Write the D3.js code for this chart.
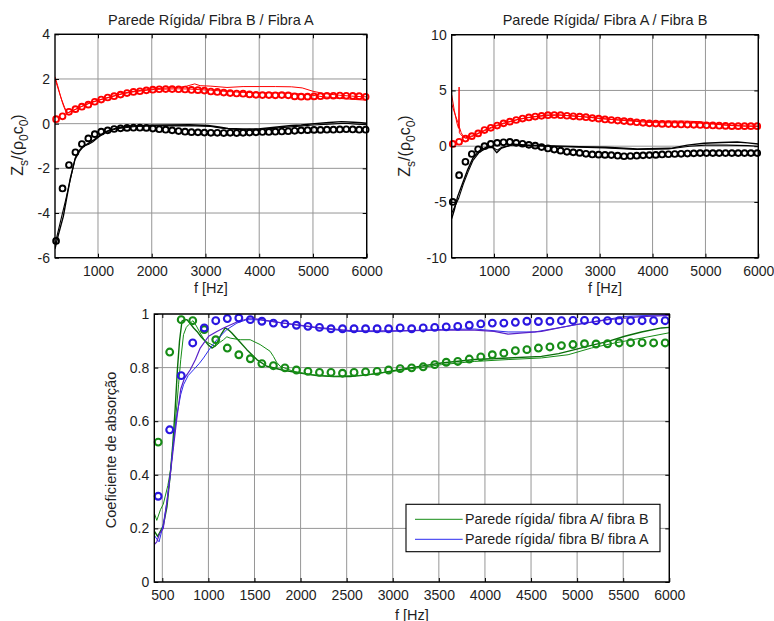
<!DOCTYPE html>
<html>
<head>
<meta charset="utf-8">
<script src="https://cdn.jsdelivr.net/npm/d3@7"></script>
<style>
  html, body { margin: 0; padding: 0; background: #fff; }
  svg { display: block; font-family: "Liberation Sans", Arial, Helvetica, sans-serif; }
</style>
</head>
<body>
<svg id="fig" width="774" height="621"></svg>
<script>
// ---------- surface impedance panels: frequency grid of the modelled points (Hz) ----------
const freqZ = [220,340,460,580,700,820,940,1060,1180,1300,1420,1540,1660,1780,1900,2020,2140,2260,2380,2500,
  2620,2740,2860,2980,3100,3220,3340,3460,3580,3700,3820,3940,4060,4180,4300,4420,4540,4660,4780,4900,
  5020,5140,5260,5380,5500,5620,5740,5860,5980];

// Parede Rígida / Fibra B / Fibra A — model (circles)
const zBA_imag = [-5.25,-2.9,-1.85,-1.28,-0.91,-0.66,-0.47,-0.36,-0.3,-0.24,-0.21,-0.19,-0.18,-0.18,-0.19,-0.22,-0.25,-0.27,-0.3,-0.33,
  -0.36,-0.38,-0.39,-0.4,-0.41,-0.41,-0.42,-0.41,-0.42,-0.41,-0.4,-0.39,-0.37,-0.37,-0.36,-0.35,-0.34,-0.32,-0.3,-0.29,
  -0.28,-0.28,-0.27,-0.27,-0.26,-0.25,-0.26,-0.27,-0.27];
const zBA_real = [0.2,0.33,0.53,0.65,0.76,0.85,0.98,1.08,1.17,1.23,1.3,1.37,1.42,1.45,1.49,1.52,1.54,1.55,1.55,1.54,
  1.53,1.51,1.5,1.48,1.44,1.42,1.39,1.37,1.35,1.34,1.31,1.29,1.28,1.28,1.27,1.28,1.27,1.22,1.21,1.21,
  1.22,1.23,1.25,1.25,1.26,1.25,1.24,1.23,1.2];

// Parede Rígida / Fibra A / Fibra B — model (circles)
const zAB_imag = [-5.0,-2.6,-1.4,-0.7,-0.28,0.0,0.2,0.3,0.35,0.38,0.3,0.22,0.12,0.05,-0.08,-0.2,-0.3,-0.4,-0.5,-0.55,
  -0.6,-0.68,-0.74,-0.76,-0.78,-0.8,-0.85,-0.9,-0.88,-0.85,-0.82,-0.8,-0.78,-0.74,-0.72,-0.7,-0.68,-0.66,-0.64,-0.62,
  -0.62,-0.62,-0.62,-0.62,-0.62,-0.62,-0.62,-0.62,-0.62];
const zAB_real = [0.2,0.4,0.68,0.9,1.15,1.45,1.65,1.85,2.05,2.2,2.35,2.48,2.58,2.66,2.72,2.78,2.8,2.78,2.73,2.68,
  2.65,2.6,2.52,2.47,2.4,2.35,2.3,2.25,2.2,2.15,2.1,2.05,2.03,2.0,1.98,1.96,1.95,1.94,1.92,1.9,
  1.88,1.86,1.84,1.82,1.8,1.8,1.8,1.8,1.8];

// measured curves, [frequency, value]
const mBA_imag1 = [[200,-5.6],[260,-5.0],[355,-4.15],[480,-2.5],[572,-1.6],[650,-1.25],[727,-1.03],[820,-0.88],[913,-0.74],
  [1037,-0.52],[1130,-0.38],[1223,-0.28],[1350,-0.2],[1471,-0.15],[1700,-0.1],[1968,-0.07],[2300,-0.06],[2700,-0.05],
  [3050,-0.08],[3250,-0.15],[3420,-0.21],[3700,-0.24],[3980,-0.24],[4290,-0.16],[4600,-0.08],[4780,-0.06],[5030,0.0],
  [5300,0.05],[5530,0.09],[5750,0.06],[5900,0.04],[6000,0.02]];
const mBA_imag2 = [[200,-5.4],[300,-4.4],[400,-3.4],[500,-2.35],[580,-1.5],[650,-1.2],[730,-1.0],[820,-0.93],[900,-0.82],
  [1000,-0.62],[1100,-0.45],[1200,-0.33],[1350,-0.23],[1500,-0.18],[1700,-0.13],[2000,-0.1],[2400,-0.1],[2800,-0.1],
  [3100,-0.13],[3300,-0.2],[3500,-0.25],[3800,-0.28],[4000,-0.27],[4300,-0.2],[4700,-0.12],[5000,-0.06],[5300,-0.02],
  [5600,0.02],[5800,-0.02],[6000,-0.05]];
const mBA_real1 = [[200,2.1],[250,1.7],[300,1.25],[350,0.85],[400,0.55],[450,0.5],[550,0.6],[700,0.78],[900,0.98],
  [1100,1.12],[1300,1.25],[1500,1.38],[1700,1.46],[1900,1.52],[2100,1.57],[2300,1.6],[2500,1.62],[2650,1.68],[2800,1.78],
  [2900,1.7],[3100,1.68],[3400,1.62],[3700,1.66],[4000,1.66],[4300,1.66],[4600,1.65],[4800,1.6],[5000,1.45],[5200,1.35],
  [5500,1.27],[5800,1.22],[6000,1.2]];
const mBA_real2 = [[200,2.0],[260,1.55],[320,1.1],[380,0.72],[430,0.48],[500,0.55],[650,0.72],[850,0.92],[1050,1.07],
  [1250,1.2],[1450,1.33],[1650,1.42],[1850,1.48],[2050,1.53],[2300,1.55],[2500,1.56],[2700,1.55],[2900,1.52],[3100,1.5],
  [3400,1.44],[3700,1.4],[4000,1.38],[4300,1.38],[4600,1.36],[4900,1.3],[5200,1.2],[5500,1.13],[5800,1.08],[6000,1.05]];

const mAB_imag1 = [[200,-6.5],[250,-5.7],[313,-4.5],[408,-3.3],[503,-2.1],[597,-1.1],[722,-0.4],[849,-0.1],[976,-0.13],
  [1051,-0.58],[1133,-0.2],[1354,0.17],[1668,0.1],[1984,0.05],[2614,-0.04],[3119,-0.1],[3712,-0.25],[4343,-0.19],
  [4658,0.1],[4973,0.26],[5300,0.33],[5604,0.38],[5800,0.3],[6000,0.2]];
const mAB_imag2 = [[200,-6.0],[260,-5.4],[330,-4.7],[420,-3.4],[510,-2.3],[600,-1.3],[720,-0.55],[850,-0.2],[960,-0.05],
  [1060,-0.35],[1150,-0.1],[1350,0.1],[1700,0.05],[2000,0.0],[2600,-0.1],[3100,-0.15],[3700,-0.3],[4300,-0.25],
  [4700,0.0],[5000,0.1],[5400,0.1],[5800,0.05],[6000,0.0]];
const mAB_real1 = [[200,4.6],[250,3.2],[300,2.05],[330,1.6],[340,5.3],[345,1.2],[400,0.9],[460,0.75],[600,0.95],[800,1.4],
  [1000,1.8],[1200,2.1],[1400,2.35],[1600,2.55],[1800,2.68],[2000,2.8],[2200,2.82],[2400,2.75],[2600,2.68],[2800,2.6],
  [3000,2.5],[3300,2.38],[3700,2.28],[4000,2.22],[4300,2.25],[4600,2.25],[4900,2.2],[5100,2.05],[5400,1.9],[5700,1.82],
  [6000,1.8]];
const mAB_real2 = [[200,3.8],[260,2.9],[320,2.1],[380,1.2],[440,0.75],[500,0.7],[650,1.0],[850,1.45],[1050,1.82],
  [1250,2.12],[1450,2.38],[1650,2.56],[1850,2.68],[2050,2.76],[2250,2.78],[2450,2.72],[2650,2.65],[2850,2.56],
  [3050,2.46],[3350,2.34],[3650,2.24],[3950,2.12],[4250,2.1],[4550,2.1],[4850,2.08],[5150,1.98],[5450,1.86],
  [5750,1.8],[6000,1.78]];

// ---------- absorption panel ----------
const freqAlpha = [455,580,705,830,955,1080,1205,1330,1455,1580,1705,1830,1955,2080,2205,2330,2455,2580,2705,2830,
  2955,3080,3205,3330,3455,3580,3705,3830,3955,4080,4205,4330,4455,4580,4705,4830,4955,5080,5205,5330,
  5455,5580,5705,5830,5955];
const alphaAB = [0.522,0.858,0.979,0.975,0.942,0.904,0.873,0.848,0.833,0.815,0.807,0.799,0.791,0.786,0.782,0.782,0.779,0.782,0.784,0.786,
  0.791,0.796,0.799,0.803,0.811,0.82,0.823,0.832,0.84,0.848,0.854,0.863,0.867,0.873,0.877,0.882,0.886,0.889,0.888,0.889,
  0.892,0.893,0.893,0.892,0.892];
const alphaBA = [0.32,0.568,0.77,0.892,0.948,0.975,0.983,0.985,0.979,0.973,0.966,0.963,0.958,0.954,0.95,0.945,0.945,0.945,0.945,0.945,
  0.945,0.948,0.945,0.948,0.95,0.952,0.954,0.958,0.963,0.966,0.966,0.969,0.973,0.972,0.973,0.975,0.976,0.976,0.975,0.975,
  0.975,0.975,0.975,0.975,0.975];

const measAB1 = [[413,0.19],[450,0.17],[510,0.21],[550,0.28],[586,0.4],[615,0.52],[640,0.65],[665,0.8],[687,0.9],[713,0.973],
  [740,0.978],[767,0.979],[800,0.965],[840,0.948],[876,0.935],[920,0.915],[966,0.898],[1000,0.884],[1038,0.873],[1070,0.88],
  [1092,0.892],[1140,0.925],[1182,0.948],[1220,0.94],[1254,0.929],[1330,0.9],[1417,0.867],[1525,0.83],[1633,0.805],
  [1814,0.79],[1995,0.78],[2175,0.77],[2356,0.767],[2537,0.767],[2700,0.772],[2898,0.782],[3187,0.799],[3528,0.817],
  [3890,0.83],[4251,0.836],[4613,0.842],[4800,0.852],[4974,0.867],[5155,0.883],[5336,0.898],[5517,0.917],[5698,0.933],
  [5915,0.948],[6000,0.95]];
const measAB2 = [[413,0.257],[440,0.23],[480,0.27],[510,0.29],[560,0.36],[590,0.42],[622,0.525],[650,0.63],[676,0.736],
  [700,0.83],[730,0.923],[760,0.95],[785,0.96],[832,0.975],[870,0.955],[911,0.929],[960,0.9],[1002,0.892],[1074,0.879],
  [1120,0.893],[1164,0.904],[1200,0.915],[1236,0.91],[1345,0.904],[1453,0.904],[1561,0.886],[1669,0.861],[1705,0.842],
  [1740,0.82],[1778,0.805],[1922,0.786],[2103,0.774],[2356,0.767],[2717,0.772],[3187,0.795],[3528,0.811],[3890,0.823],
  [4251,0.83],[4613,0.836],[4902,0.848],[5155,0.873],[5408,0.892],[5698,0.91],[6000,0.93]];
const measBA1 = [[413,0.175],[440,0.16],[465,0.15],[510,0.214],[550,0.3],[586,0.4],[620,0.52],[658,0.624],[700,0.7],
  [730,0.736],[780,0.77],[839,0.792],[900,0.815],[947,0.836],[1020,0.873],[1092,0.904],[1200,0.942],[1309,0.966],
  [1417,0.979],[1561,0.978],[1814,0.966],[2175,0.948],[2537,0.935],[2898,0.934],[3187,0.938],[3528,0.942],[3890,0.944],
  [4251,0.933],[4540,0.933],[4793,0.948],[5155,0.97],[5517,0.991],[6000,0.998]];
const measBA2 = [[413,0.14],[440,0.15],[470,0.18],[510,0.2],[550,0.3],[586,0.4],[620,0.5],[658,0.612],[700,0.72],
  [740,0.76],[803,0.792],[860,0.83],[911,0.873],[1002,0.917],[1092,0.935],[1164,0.948],[1309,0.97],[1453,0.985],
  [1814,0.966],[2175,0.95],[2537,0.938],[2898,0.937],[3187,0.938],[3528,0.94],[3890,0.94],[4100,0.935],[4251,0.925],
  [4613,0.935],[4974,0.96],[5336,0.979],[5698,0.99],[6000,0.995]];

// ---------- tick values ----------
const ticksFreqZ = [1000,2000,3000,4000,5000,6000];
const ticksZ_BA = [-6,-4,-2,0,2,4];
const ticksZ_AB = [-10,-5,0,5,10];
const ticksFreqAlpha = [500,1000,1500,2000,2500,3000,3500,4000,4500,5000,5500,6000];
const ticksAlpha = [0,0.2,0.4,0.6,0.8,1];
const legendLabels = ["Parede rígida/ fibra A/ fibra B", "Parede rígida/ fibra B/ fibra A"];

// ---------- drawing ----------
const svg = d3.select("#fig");
const TXT = "#1e1e1e";
const plain = d => String(d);

function panel(o) {
  const x = d3.scaleLinear().domain(o.xDomain).range([o.left, o.right]);
  const y = d3.scaleLinear().domain(o.yDomain).range([o.bottom, o.top]);
  const g = svg.append("g");
  const w = o.right - o.left, h = o.bottom - o.top;

  g.append("clipPath").attr("id", "clip-" + o.id)
    .append("rect").attr("x", o.left).attr("y", o.top).attr("width", w).attr("height", h);

  // grid
  const grid = g.append("g").attr("stroke", "#969696").attr("stroke-width", 1);
  grid.selectAll("line.gx").data(o.xTicks).join("line").attr("class", "gx")
    .attr("x1", d => x(d)).attr("x2", d => x(d)).attr("y1", o.top).attr("y2", o.bottom);
  grid.selectAll("line.gy").data(o.yTicks).join("line").attr("class", "gy")
    .attr("x1", o.left).attr("x2", o.right).attr("y1", d => y(d)).attr("y2", d => y(d));

  // measured curves
  const line = d3.line().x(d => x(d[0])).y(d => y(d[1]));
  const curves = g.append("g").attr("clip-path", `url(#clip-${o.id})`).attr("fill", "none");
  o.lines.forEach(s => {
    curves.append("path").datum(s.data).attr("d", line)
      .attr("stroke", s.color).attr("stroke-width", s.width).attr("stroke-linejoin", "round");
  });

  // model points
  o.points.forEach(s => {
    g.append("g").selectAll("circle").data(s.values).join("circle")
      .attr("cx", (d, i) => x(s.freq[i])).attr("cy", d => y(d)).attr("r", s.r)
      .attr("fill", "none").attr("stroke", s.color).attr("stroke-width", s.sw);
  });

  // axes with inward ticks on all sides
  const styleAxis = sel => {
    sel.select(".domain").remove();
    sel.selectAll(".tick line").attr("stroke", "#000").attr("stroke-width", 1);
    sel.selectAll(".tick text").attr("fill", TXT).style("font-size", "14px")
      .style("font-family", '"Liberation Sans", Arial, sans-serif');
  };
  g.append("g").attr("transform", `translate(0,${o.bottom})`)
    .call(d3.axisBottom(x).tickValues(o.xTicks).tickSize(-4).tickPadding(8.5).tickFormat(plain)).call(styleAxis);
  g.append("g").attr("transform", `translate(0,${o.top})`)
    .call(d3.axisTop(x).tickValues(o.xTicks).tickSize(-4).tickFormat("")).call(styleAxis);
  g.append("g").attr("transform", `translate(${o.left},0)`)
    .call(d3.axisLeft(y).tickValues(o.yTicks).tickSize(-4).tickPadding(5).tickFormat(plain)).call(styleAxis);
  g.append("g").attr("transform", `translate(${o.right},0)`)
    .call(d3.axisRight(y).tickValues(o.yTicks).tickSize(-4).tickFormat("")).call(styleAxis);

  g.append("rect").attr("x", o.left).attr("y", o.top).attr("width", w).attr("height", h)
    .attr("fill", "none").attr("stroke", "#000").attr("stroke-width", 1.4);

  const cx = (o.left + o.right) / 2;
  if (o.title) {
    g.append("text").attr("x", cx).attr("y", o.top - 9.5).attr("text-anchor", "middle")
      .attr("fill", TXT).style("font-size", "14.5px").text(o.title);
  }
  g.append("text").attr("x", cx).attr("y", o.xLabelY).attr("text-anchor", "middle")
    .attr("fill", TXT).style("font-size", "14.5px").text("f [Hz]");
  return { x, y, g };
}

// Z_s/(ρ0c0) label with subscripts, rotated
function zLabel(xBase, yCenter) {
  const t = svg.append("text")
    .attr("transform", `translate(${xBase},${yCenter}) rotate(-90)`)
    .attr("text-anchor", "middle").attr("fill", TXT).style("font-size", "16px");
  t.append("tspan").text("Z");
  t.append("tspan").attr("dy", 5).style("font-size", "12px").text("s");
  t.append("tspan").attr("dy", -5).text("/(\u03c1");
  t.append("tspan").attr("dy", 5).style("font-size", "12px").text("0");
  t.append("tspan").attr("dy", -5).text("c");
  t.append("tspan").attr("dy", 5).style("font-size", "12px").text("0");
  t.append("tspan").attr("dy", -5).text(")");
}

const RED = "#ff0000", BLK = "#000000";

panel({
  id: "ba", left: 55, right: 366.7, top: 34.3, bottom: 257.7,
  xDomain: [200, 6000], yDomain: [-6, 4], xTicks: ticksFreqZ, yTicks: ticksZ_BA,
  title: "Parede Rígida/ Fibra B / Fibra A", xLabelY: 293,
  lines: [
    { data: mBA_imag1, color: BLK, width: 1.4 }, { data: mBA_imag2, color: BLK, width: 1.1 },
    { data: mBA_real1, color: RED, width: 1 }, { data: mBA_real2, color: RED, width: 1 }
  ],
  points: [
    { freq: freqZ, values: zBA_real, color: RED, r: 2.9, sw: 1.9 },
    { freq: freqZ, values: zBA_imag, color: BLK, r: 2.9, sw: 1.9 }
  ]
});
zLabel(22.5, 145);

panel({
  id: "ab", left: 451.7, right: 758.3, top: 34.7, bottom: 257.7,
  xDomain: [200, 6000], yDomain: [-10, 10], xTicks: ticksFreqZ, yTicks: ticksZ_AB,
  title: "Parede Rígida/ Fibra A / Fibra B", xLabelY: 293,
  lines: [
    { data: mAB_imag1, color: BLK, width: 1.4 }, { data: mAB_imag2, color: BLK, width: 1.1 },
    { data: mAB_real1, color: RED, width: 1 }, { data: mAB_real2, color: RED, width: 1 }
  ],
  points: [
    { freq: freqZ, values: zAB_real, color: RED, r: 2.9, sw: 1.9 },
    { freq: freqZ, values: zAB_imag, color: BLK, r: 2.9, sw: 1.9 }
  ]
});
zLabel(410, 146);

const GREEN = "#168c16", GREEN_D = "#0a6e0a", BLUE = "#2b2bf0", PURPLE = "#5a22c8", BLUE_PT = "#2a16e0";
panel({
  id: "alpha", left: 154.3, right: 669.3, top: 314, bottom: 582,
  xDomain: [413, 6000], yDomain: [0, 1], xTicks: ticksFreqAlpha, yTicks: ticksAlpha,
  title: null, xLabelY: 619.5,
  lines: [
    { data: measAB1, color: GREEN_D, width: 1.4 }, { data: measAB2, color: GREEN, width: 1 },
    { data: measBA1, color: BLUE, width: 1 }, { data: measBA2, color: PURPLE, width: 1.2 }
  ],
  points: [
    { freq: freqAlpha, values: alphaAB, color: GREEN, r: 3.4, sw: 2.1 },
    { freq: freqAlpha, values: alphaBA, color: BLUE_PT, r: 3.4, sw: 2.1 }
  ]
});
svg.append("text").attr("transform", "translate(116,450) rotate(-90)")
  .attr("text-anchor", "middle").attr("fill", TXT).style("font-size", "14.5px")
  .text("Coeficiente de absorção");

// legend
const lg = svg.append("g");
lg.append("rect").attr("x", 406).attr("y", 504.3).attr("width", 254).attr("height", 47.4)
  .attr("fill", "#fff").attr("stroke", "#000").attr("stroke-width", 1.1);
[GREEN, BLUE].forEach((c, i) => {
  const yy = 519.3 + i * 20;
  lg.append("line").attr("x1", 415).attr("x2", 462.7).attr("y1", yy).attr("y2", yy)
    .attr("stroke", c).attr("stroke-width", 1);
  lg.append("text").attr("x", 465).attr("y", yy).attr("dy", "0.33em").attr("fill", TXT)
    .style("font-size", "14.3px").text(legendLabels[i]);
});
</script>
</body>
</html>
